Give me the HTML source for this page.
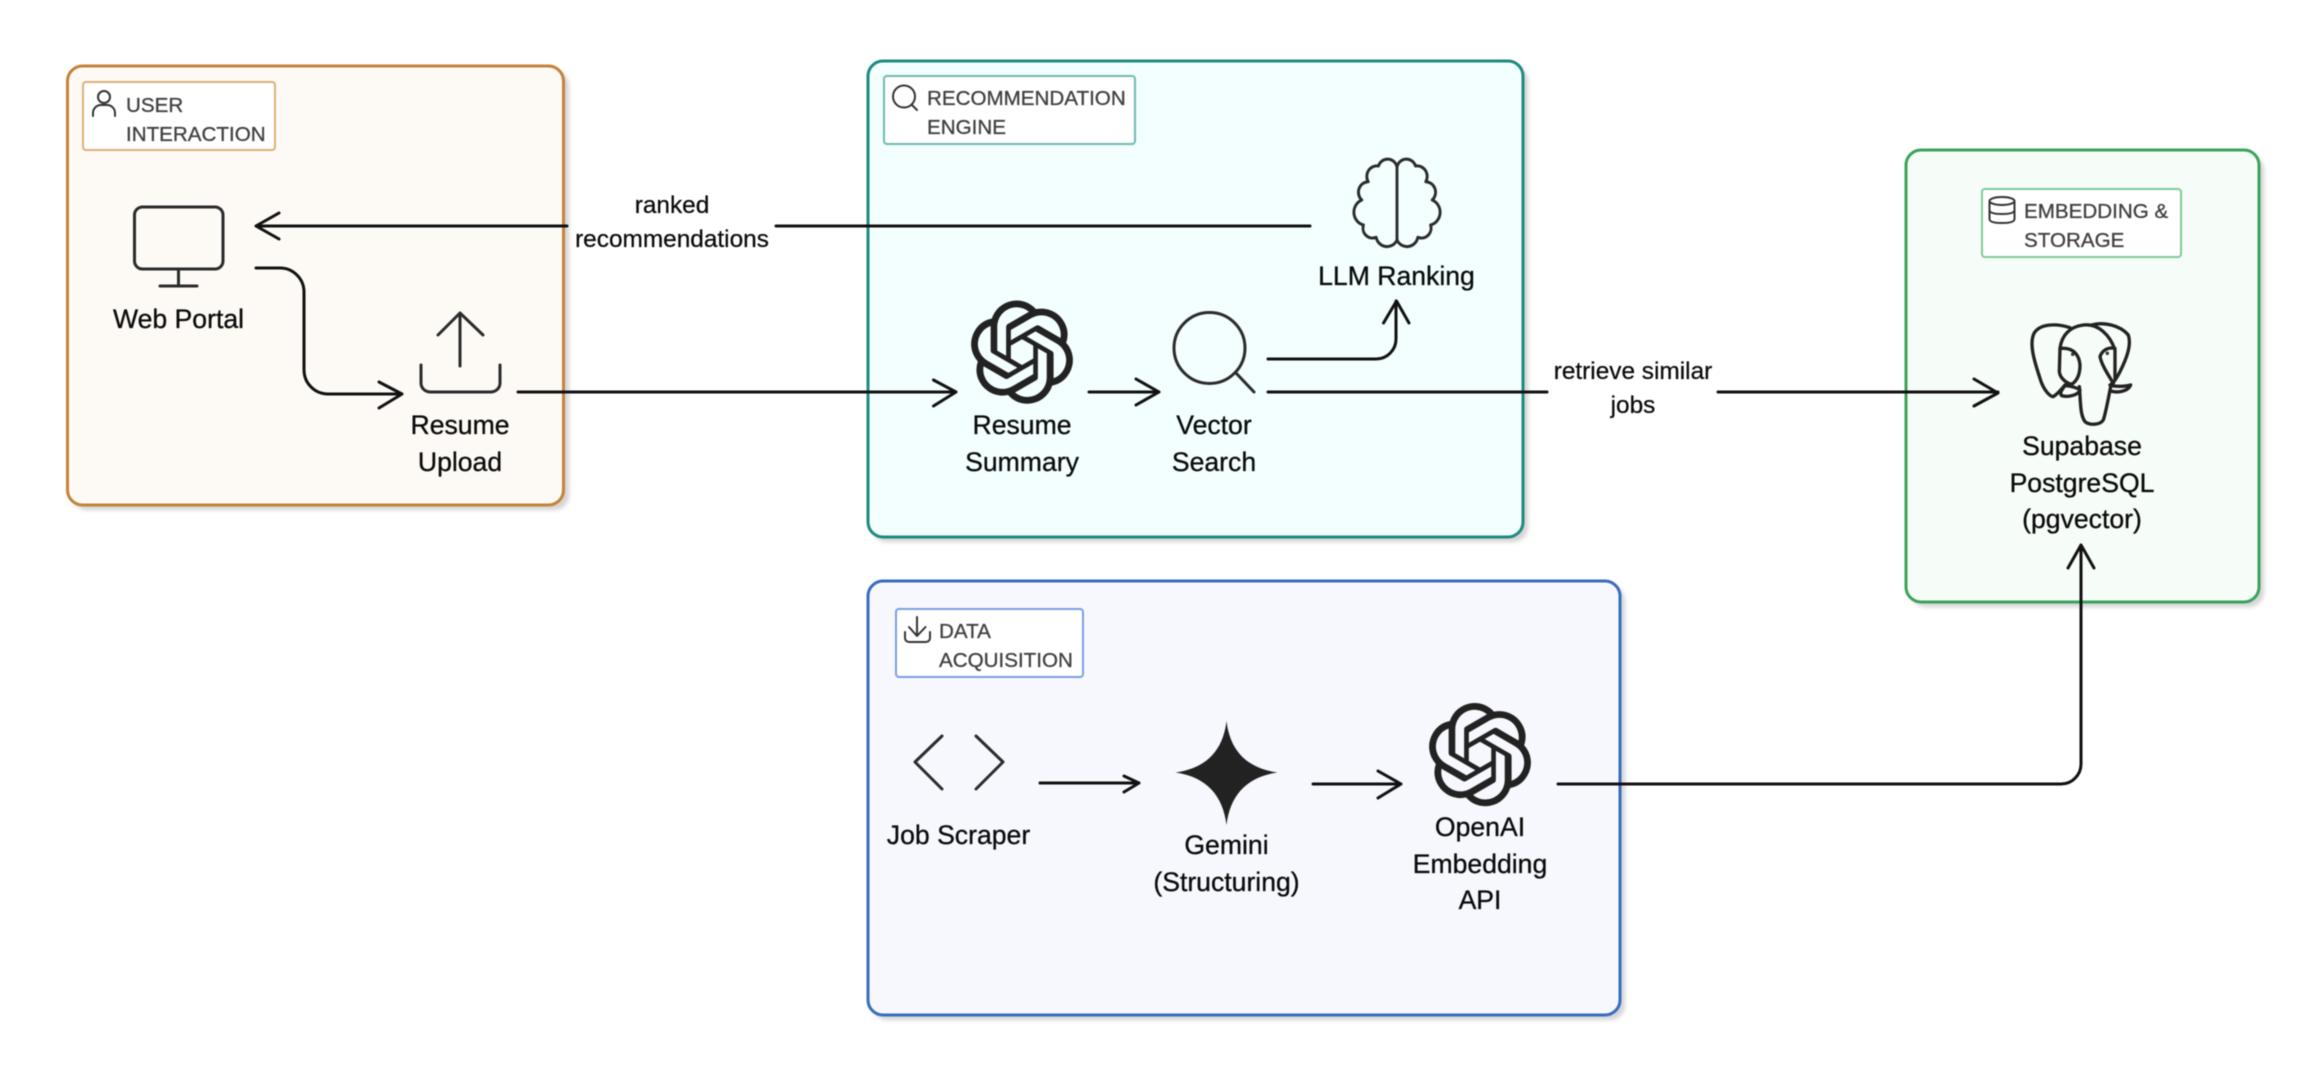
<!DOCTYPE html>
<html><head><meta charset="utf-8"><style>
html,body{margin:0;padding:0;background:#fff;width:2318px;height:1075px;overflow:hidden}
svg{display:block;filter:blur(0.45px)}
text{font-family:"Liberation Sans",sans-serif}
.n{font-size:26.6px;fill:#0a0a0a;text-anchor:middle;stroke:#0a0a0a;stroke-width:.3px}
.e{font-size:24.4px;fill:#0a0a0a;text-anchor:middle;stroke:#0a0a0a;stroke-width:.25px}
.t{font-size:20.6px;fill:#404040;stroke:#404040;stroke-width:.3px}
.i{fill:none;stroke:#2b2b2b;stroke-width:3;stroke-linecap:round;stroke-linejoin:round}
.l{fill:none;stroke:#333;stroke-width:2;stroke-linecap:round;stroke-linejoin:round}
.c{fill:none;stroke:#111;stroke-width:3;stroke-linecap:round;stroke-linejoin:round}
</style></head><body>
<svg width="2318" height="1075" viewBox="0 0 2318 1075" xmlns="http://www.w3.org/2000/svg">
<defs><filter id="s" x="-5%" y="-5%" width="110%" height="110%"><feGaussianBlur stdDeviation="2"/></filter></defs>
<rect width="2318" height="1075" fill="#fff"/>
<g fill="#d4d4d4" filter="url(#s)">
<rect x="72" y="71" width="497" height="439" rx="15"/>
<rect x="872" y="66" width="656" height="476" rx="15"/>
<rect x="872" y="586" width="753" height="434" rx="15"/>
<rect x="1911" y="155" width="353" height="452" rx="15"/>
</g>
<rect x="67.5" y="66" width="496" height="439" rx="15" fill="#fdfaf5" stroke="#c4823a" stroke-width="3"/>
<rect x="868" y="61" width="655" height="476" rx="15" fill="#f2fffe" stroke="#1f8a80" stroke-width="3"/>
<rect x="868" y="581" width="752" height="434" rx="15" fill="#f6f8fe" stroke="#3a6cc0" stroke-width="3"/>
<rect x="1906" y="150" width="353" height="452" rx="15" fill="#f6fcf8" stroke="#3aa35a" stroke-width="3"/>

<rect x="83" y="82" width="192" height="68" rx="3" fill="#fff" stroke="#dfae78" stroke-width="2"/>
<rect x="884" y="76" width="251" height="68" rx="3" fill="#fff" stroke="#6cbab2" stroke-width="2"/>
<rect x="896" y="609" width="187" height="68" rx="3" fill="#fff" stroke="#7a9fe0" stroke-width="2"/>
<rect x="1982" y="189" width="199" height="68" rx="3" fill="#fff" stroke="#80ca98" stroke-width="2"/>

<text class="t" x="126" y="112">USER</text><text class="t" x="126" y="141">INTERACTION</text>
<text class="t" x="927" y="105">RECOMMENDATION</text><text class="t" x="927" y="134">ENGINE</text>
<text class="t" x="939" y="638">DATA</text><text class="t" x="939" y="667">ACQUISITION</text>
<text class="t" x="2024" y="218">EMBEDDING &amp;</text><text class="t" x="2024" y="247">STORAGE</text>

<!-- label icons -->
<circle class="l" cx="104" cy="97" r="6"/>
<path class="l" d="M93 116v-3a8 8 0 0 1 8-8h6a8 8 0 0 1 8 8v3"/>
<circle class="l" cx="904" cy="96.500" r="11"/>
<path class="l" d="M912 105l5 5"/>
<path class="l" d="M917 617v19M909 627l8 9 8.500-9M905 632v6a4 4 0 0 0 4 4h17a4 4 0 0 0 4-4v-6"/>
<ellipse class="l" cx="2002" cy="201" rx="12.500" ry="4"/>
<path class="l" d="M1989.500 201v18q0 4 12.500 4t12.500-4v-18M1989.500 210q0 4 12.500 4t12.500-4"/>

<!-- connectors -->
<path class="c" d="M567 226H256M279 213l-23 13 23 13"/>
<path class="c" d="M1310 226H776"/>
<path class="c" d="M256 268h24a24 24 0 0 1 24 24v78a24 24 0 0 0 24 24h74M379 382l23 12-23 14"/>
<path class="c" d="M518 392H956M933.500 380l22.500 12-22.500 14"/>
<path class="c" d="M1089 392h70M1136 379l23 13-23 13"/>
<path class="c" d="M1268 359h108a20 20 0 0 0 20-20v-38M1383.500 323l13-22 12.500 22"/>
<path class="c" d="M1268 392H1547M1718 392H1998M1974 379l24 14-24 13"/>
<path class="c" d="M1040 783h99M1124 776l15 7-15 9"/>
<path class="c" d="M1313 784h88M1378 771l23 13-23 14"/>
<path class="c" d="M1558 784h503a20 20 0 0 0 20-20V545M2068 568l13-23 13 23"/>

<!-- monitor -->
<rect class="i" x="134.500" y="207" width="88.500" height="62" rx="8"/>
<path class="i" d="M178.500 269v17M160 286h37"/>
<!-- upload -->
<path class="i" d="M460 366V313M438 335l22-22 23 22M421 365v18a9 9 0 0 0 9 9h61a9 9 0 0 0 9-9v-18"/>
<!-- brain -->
<g class="i" transform="translate(1397 0) scale(.96 1)">
<path d="M0 166V240"/>
<path d="M0 167A10 10 0 0 0-19.300 166A10.500 10.500 0 0 0-30 181.700A10.500 10.500 0 0 0-36.700 200A13.200 13.200 0 0 0-35 225A10 10 0 0 0-21.700 237.300A11.500 11.500 0 0 0 0 240"/>
<path d="M0 167A10 10 0 0 1 19.300 166A10.500 10.500 0 0 1 30 181.700A10.500 10.500 0 0 1 36.700 200A13.200 13.200 0 0 1 35 225A10 10 0 0 1 21.700 237.300A11.500 11.500 0 0 1 0 240"/>
</g>
<!-- magnifier -->
<circle class="i" cx="1209.500" cy="348" r="35.500"/>
<path class="i" d="M1236 373l18 19"/>
<!-- openai 1 -->
<path fill="#222" transform="translate(970.400 300.500) scale(4.300)" d="M22.2819 9.8211a5.9847 5.9847 0 0 0-.5157-4.9108 6.0462 6.0462 0 0 0-6.5098-2.9A6.0651 6.0651 0 0 0 4.9807 4.1818a5.9847 5.9847 0 0 0-3.9977 2.9 6.0462 6.0462 0 0 0 .7427 7.0966 5.98 5.98 0 0 0 .511 4.9107 6.051 6.051 0 0 0 6.5146 2.9001A5.9847 5.9847 0 0 0 13.2599 24a6.0557 6.0557 0 0 0 5.7718-4.2058 5.9894 5.9894 0 0 0 3.9977-2.9001 6.0557 6.0557 0 0 0-.7475-7.0729zm-9.022 12.6081a4.4755 4.4755 0 0 1-2.8764-1.0408l.1419-.0804 4.7783-2.7582a.7948.7948 0 0 0 .3927-.6813v-6.7369l2.02 1.1686a.071.071 0 0 1 .038.052v5.5826a4.504 4.504 0 0 1-4.4945 4.4944zm-9.6607-4.1254a4.4708 4.4708 0 0 1-.5346-3.0137l.142.0852 4.783 2.7582a.7712.7712 0 0 0 .7806 0l5.8428-3.3685v2.3324a.0804.0804 0 0 1-.0332.0615L9.74 19.9502a4.4992 4.4992 0 0 1-6.1408-1.6464zM2.3408 7.8956a4.485 4.485 0 0 1 2.3655-1.9728V11.6a.7664.7664 0 0 0 .3879.6765l5.8144 3.3543-2.0201 1.1685a.0757.0757 0 0 1-.071 0l-4.8303-2.7865A4.504 4.504 0 0 1 2.3408 7.872zm16.5963 3.8558L13.1038 8.364 15.1192 7.2a.0757.0757 0 0 1 .071 0l4.8303 2.7913a4.4944 4.4944 0 0 1-.6765 8.1042v-5.6772a.79.79 0 0 0-.407-.667zm2.0107-3.0231l-.142-.0852-4.7735-2.7818a.7759.7759 0 0 0-.7854 0L9.409 9.2297V6.8974a.0662.0662 0 0 1 .0284-.0615l4.8303-2.7866a4.4992 4.4992 0 0 1 6.6802 4.66zM8.3065 12.863l-2.02-1.1638a.0804.0804 0 0 1-.038-.0567V6.0742a4.4992 4.4992 0 0 1 7.3757-3.4537l-.142.0805L8.704 5.459a.7948.7948 0 0 0-.3927.6813zm1.0976-2.3654l2.602-1.4998 2.6069 1.4998v2.9994l-2.5974 1.4997-2.6067-1.4997Z"/>
<!-- openai 2 -->
<path fill="#222" transform="translate(1428.400 703) scale(4.300)" d="M22.2819 9.8211a5.9847 5.9847 0 0 0-.5157-4.9108 6.0462 6.0462 0 0 0-6.5098-2.9A6.0651 6.0651 0 0 0 4.9807 4.1818a5.9847 5.9847 0 0 0-3.9977 2.9 6.0462 6.0462 0 0 0 .7427 7.0966 5.98 5.98 0 0 0 .511 4.9107 6.051 6.051 0 0 0 6.5146 2.9001A5.9847 5.9847 0 0 0 13.2599 24a6.0557 6.0557 0 0 0 5.7718-4.2058 5.9894 5.9894 0 0 0 3.9977-2.9001 6.0557 6.0557 0 0 0-.7475-7.0729zm-9.022 12.6081a4.4755 4.4755 0 0 1-2.8764-1.0408l.1419-.0804 4.7783-2.7582a.7948.7948 0 0 0 .3927-.6813v-6.7369l2.02 1.1686a.071.071 0 0 1 .038.052v5.5826a4.504 4.504 0 0 1-4.4945 4.4944zm-9.6607-4.1254a4.4708 4.4708 0 0 1-.5346-3.0137l.142.0852 4.783 2.7582a.7712.7712 0 0 0 .7806 0l5.8428-3.3685v2.3324a.0804.0804 0 0 1-.0332.0615L9.74 19.9502a4.4992 4.4992 0 0 1-6.1408-1.6464zM2.3408 7.8956a4.485 4.485 0 0 1 2.3655-1.9728V11.6a.7664.7664 0 0 0 .3879.6765l5.8144 3.3543-2.0201 1.1685a.0757.0757 0 0 1-.071 0l-4.8303-2.7865A4.504 4.504 0 0 1 2.3408 7.872zm16.5963 3.8558L13.1038 8.364 15.1192 7.2a.0757.0757 0 0 1 .071 0l4.8303 2.7913a4.4944 4.4944 0 0 1-.6765 8.1042v-5.6772a.79.79 0 0 0-.407-.667zm2.0107-3.0231l-.142-.0852-4.7735-2.7818a.7759.7759 0 0 0-.7854 0L9.409 9.2297V6.8974a.0662.0662 0 0 1 .0284-.0615l4.8303-2.7866a4.4992 4.4992 0 0 1 6.6802 4.66zM8.3065 12.863l-2.02-1.1638a.0804.0804 0 0 1-.038-.0567V6.0742a4.4992 4.4992 0 0 1 7.3757-3.4537l-.142.0805L8.704 5.459a.7948.7948 0 0 0-.3927.6813zm1.0976-2.3654l2.602-1.4998 2.6069 1.4998v2.9994l-2.5974 1.4997-2.6067-1.4997Z"/>
<!-- brackets -->
<path class="i" d="M942 736l-27 26 27 27M976 736l27 26-27 27"/>
<!-- gemini star -->
<path fill="#222" d="M1226.500 721C1230 750 1246 768 1277.500 772.500C1246 777 1230 796 1226.500 825C1223 796 1207 777 1175.500 772.500C1207 768 1223 750 1226.500 721Z"/>
<!-- elephant -->
<g transform="translate(2020 315) scale(.3333)" fill="none" stroke="#222" stroke-width="10" stroke-linecap="round" stroke-linejoin="round">
<path d="M150 38C110 25 60 25 42 55C28 85 40 130 60 190C70 225 90 245 100 245C115 235 125 222 135 210"/>
<path d="M120 100C125 60 150 35 190 30C235 25 270 60 285 105L285 190"/>
<path d="M215 30C250 20 300 30 325 60C335 90 320 130 300 170C290 190 280 205 270 210"/>
<path d="M120 100L118 170C120 190 140 205 155 208C175 195 180 170 180 150C178 125 165 100 130 100Z"/>
<path d="M285 100C260 95 245 110 240 125C245 150 265 180 280 205"/>
<path d="M178 215C182 260 180 300 195 320C210 332 240 330 250 315C258 290 265 250 272 215"/>
<path d="M135 212C125 225 118 235 125 242C145 248 175 240 180 225C170 218 150 212 135 212Z"/>
<path d="M272 212C290 215 315 215 332 210C325 228 295 235 272 228"/>
<circle cx="158" cy="118" r="2" stroke-width="6"/><circle cx="262" cy="115" r="2" stroke-width="6"/>
</g>

<!-- node labels -->
<text class="n" x="178.500" y="328">Web Portal</text>
<text class="n" x="460" y="434">Resume</text><text class="n" x="460" y="471">Upload</text>
<text class="n" x="1022" y="434">Resume</text><text class="n" x="1022" y="471">Summary</text>
<text class="n" x="1214" y="434">Vector</text><text class="n" x="1214" y="471">Search</text>
<text class="n" x="1396.500" y="285">LLM Ranking</text>
<text class="n" x="2082" y="455">Supabase</text><text class="n" x="2082" y="492">PostgreSQL</text><text class="n" x="2082" y="528">(pgvector)</text>
<text class="n" x="958.500" y="844">Job Scraper</text>
<text class="n" x="1226.500" y="854">Gemini</text><text class="n" x="1226.500" y="891">(Structuring)</text>
<text class="n" x="1480" y="836">OpenAI</text><text class="n" x="1480" y="873">Embedding</text><text class="n" x="1480" y="909">API</text>
<text class="e" x="672" y="213">ranked</text><text class="e" x="672" y="247">recommendations</text>
<text class="e" x="1633" y="379">retrieve similar</text><text class="e" x="1633" y="413">jobs</text>
</svg>
</body></html>
